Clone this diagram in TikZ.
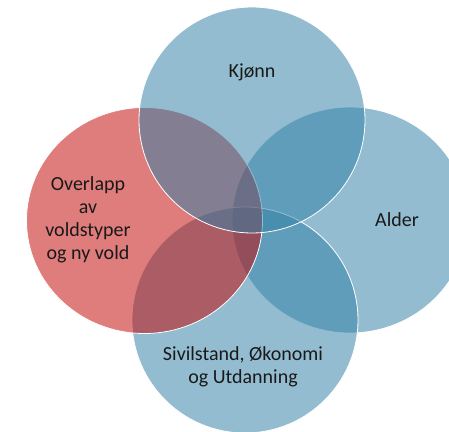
\documentclass[tikz,border=0pt]{standalone}
\usepackage{fontspec}
\setmainfont{Carlito}
\definecolor{vennblue}{RGB}{51,129,166}
\definecolor{vennred}{RGB}{195,8,8}

\newcommand{\Radius}{113}
\newcommand{\Wide}{118}

\begin{document}
\begin{tikzpicture}[x=1pt,y=-1pt,
  venn/.style={draw=white,line width=0.8pt,fill opacity=0.53},
  venntext/.style={font=\fontsize{20}{23}\selectfont,align=center,text=black!90}]
\clip (0,0) rectangle (449,431);
\coordinate (T) at (252,120);
\coordinate (R) at (350,220);
\coordinate (B) at (245,320);
\coordinate (L) at (144.5,220.5);

\draw[venn,fill=vennblue] (R) ellipse [x radius=\Wide, y radius=\Radius];% Right circle
\draw[venn,fill=vennblue] (B) circle [radius=\Radius];% Bottom circle
\draw[venn,fill=vennred] (L) ellipse [x radius=\Wide, y radius=\Radius];% Left circle
\draw[venn,fill=vennblue] (T) circle [radius=\Radius];% Top circle

\node[venntext] (kjonn) at (252,72) {Kjønn};
\node[venntext] (alder) at (397,220) {Alder};
\node[venntext] (overlapp) at (88,220) {Overlapp\\av\\voldstyper\\og ny vold};
\node[venntext] (sivil) at (243,367) {Sivilstand, Økonomi\\og Utdanning};
\end{tikzpicture}
\end{document}
